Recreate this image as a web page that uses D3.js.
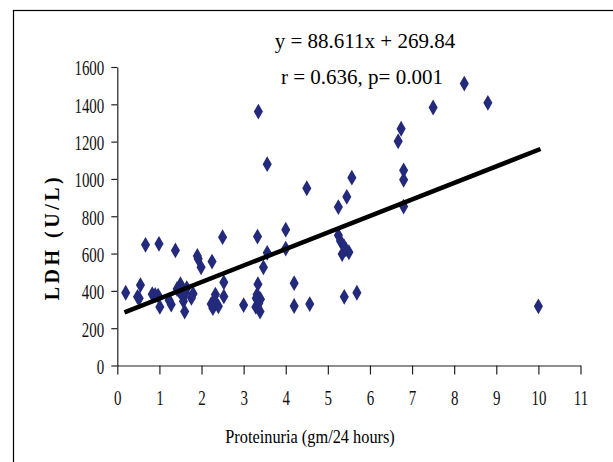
<!DOCTYPE html>
<html>
<head>
<meta charset="utf-8">
<script src="https://cdn.jsdelivr.net/npm/d3@7"></script>
<style>
  body { margin: 0; background: #fff; }
  text { font-family: "Liberation Serif", "Times New Roman", serif; }
</style>
</head>
<body>
<svg></svg>
<script>
const width = 613, height = 462;

// proteinuria (gm/24 hours) and LDH (U/L)
const proteinuria = [0.2, 0.48, 0.55, 0.52, 0.67, 0.83, 0.9, 0.97, 0.99, 1.01,
  1.23, 1.28, 1.38, 1.42, 1.5, 1.53, 1.57, 1.6, 1.65, 1.47, 1.56, 1.62, 1.76, 1.8,
  1.9, 1.92, 1.99, 2.23, 2.25, 2.27, 2.33, 2.3, 2.4, 2.5, 2.53, 2.53, 3.0, 3.33,
  3.35, 3.34, 3.32, 3.36, 3.29, 3.39, 3.4, 3.3, 3.47, 3.56, 3.56, 4.0, 4.0, 4.2,
  4.2, 4.5, 4.57, 5.25, 5.25, 5.3, 5.34, 5.39, 5.43, 5.5, 5.45, 5.39, 5.57, 5.69,
  6.67, 6.74, 6.8, 6.8, 6.8, 7.5, 8.24, 8.8, 10.0];
const ldh = [390, 368, 431, 360, 647, 382, 378, 375, 652, 314,
  350, 327, 617, 410, 436, 380, 345, 289, 415, 400, 370, 390, 362, 385,
  587, 572, 526, 329, 557, 307, 380, 350, 317, 688, 446, 370, 324, 691,
  1361, 436, 380, 334, 314, 289, 355, 360, 526, 1079, 604, 728, 627, 441,
  319, 950, 329, 849, 698, 667, 597, 637, 622, 607, 904, 368, 1007, 390,
  1202, 1269, 1046, 995, 852, 1383, 1511, 1408, 317];

const xTicks = d3.range(0, 12, 1);
const yTicks = d3.range(0, 1601, 200);
const slope = 88.611, intercept = 269.84;
const fitRange = [0.17, 10.05];

const data = proteinuria.map((p, i) => ({x: p, y: ldh[i]}));

const svg = d3.select('svg')
  .attr('width', width)
  .attr('height', height);

svg.append('rect')
  .attr('width', width).attr('height', height)
  .attr('fill', '#fff');

// outer chart frame (runs off the right and bottom of the picture)
svg.append('rect')
  .attr('x', 13.5).attr('y', 10.5)
  .attr('width', 700).attr('height', 500)
  .attr('fill', 'none')
  .attr('stroke', '#000')
  .attr('stroke-width', 1.2);

const xScale = d3.scaleLinear().domain([0, 11]).range([117.3, 580.5]);
const yScale = d3.scaleLinear().domain([0, 1600]).range([365.5, 67]);

const yAxis = svg.append('g')
  .attr('transform', `translate(${xScale(0)},0)`)
  .call(d3.axisLeft(yScale).tickValues(yTicks).tickFormat(d3.format('d'))
    .tickSize(6).tickSizeOuter(0).tickPadding(4));

const xAxis = svg.append('g')
  .attr('transform', `translate(0,${yScale(0)})`)
  .call(d3.axisBottom(xScale).tickValues(xTicks).tickFormat(d3.format('d'))
    .tickSize(9).tickSizeOuter(0).tickPadding(15));

[xAxis, yAxis].forEach(ax => {
  ax.select('.domain').attr('stroke', '#222').attr('stroke-width', 1.2);
  ax.selectAll('.tick line').attr('stroke', '#222').attr('stroke-width', 1.2);
  ax.selectAll('.tick text')
    .attr('fill', '#111')
    .style('font-family', '"Liberation Serif", serif')
    .style('font-size', '22px');
});

// condensed tick digits
yAxis.selectAll('.tick text')
  .attr('x', null)
  .attr('dy', '0.36em')
  .attr('transform', 'translate(-13,0) scale(0.68,1)');
xAxis.selectAll('.tick text')
  .attr('transform', 'scale(0.68,1)');

// points
const diamond = d3.symbol().type(d3.symbolDiamond).size(72);
svg.append('g')
  .selectAll('path')
  .data(data)
  .enter().append('path')
    .attr('d', diamond)
    .attr('transform', d => `translate(${xScale(d.x)},${yScale(d.y)})`)
    .attr('fill', '#232a7b');

// trend line
const fit = fitRange.map(x => ({x, y: slope * x + intercept}));
svg.append('path')
  .datum(fit)
  .attr('d', d3.line().x(d => xScale(d.x)).y(d => yScale(d.y)))
  .attr('stroke', '#000')
  .attr('stroke-width', 4.5)
  .attr('fill', 'none');

svg.append('text')
  .attr('x', 365).attr('y', 48)
  .attr('text-anchor', 'middle')
  .style('font-size', '21px')
  .text('y = 88.611x + 269.84');

svg.append('text')
  .attr('x', 362).attr('y', 84)
  .attr('text-anchor', 'middle')
  .style('font-size', '21px')
  .text('r = 0.636, p= 0.001');

svg.append('text')
  .attr('transform', 'translate(310,443) scale(0.86,1)')
  .attr('text-anchor', 'middle')
  .style('font-size', '19px')
  .text('Proteinuria (gm/24 hours)');

svg.append('text')
  .attr('transform', 'translate(59,237) rotate(-90)')
  .attr('text-anchor', 'middle')
  .style('font-size', '20px')
  .style('font-weight', 'bold')
  .style('letter-spacing', '3.5px')
  .text('LDH (U/L)');
</script>
</body>
</html>
